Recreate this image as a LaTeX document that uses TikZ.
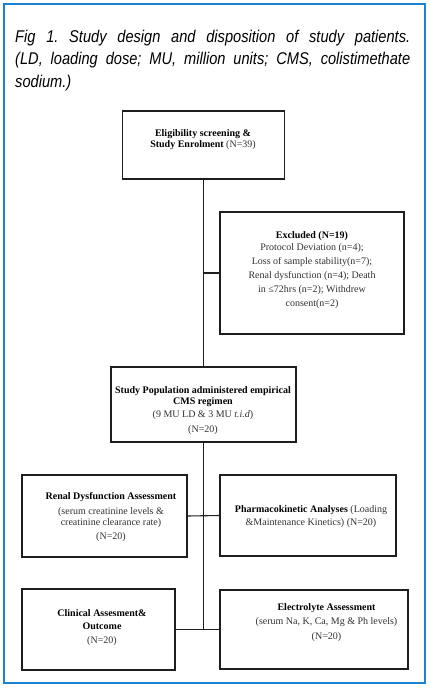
\documentclass[tikz,border=0pt]{standalone}
\usepackage{fontspec}
\setmainfont{Liberation Serif}
\newfontfamily\capfont[FakeStretch=0.86]{Liberation Sans}
\definecolor{framblue}{RGB}{30,130,210}
\definecolor{boxline}{RGB}{30,30,30}
\definecolor{txtgray}{RGB}{50,50,50}
\tikzset{
  box/.style={draw=boxline, line width=1.1pt, inner sep=0pt, outer sep=0pt, fill=white},
  boxtxt/.style={align=center, inner sep=0pt, text=txtgray},
  conn/.style={draw=boxline, line width=1.1pt}
}
\begin{document}
\begin{tikzpicture}[x=1pt,y=-1pt]
\useasboundingbox (0,0) rectangle (431,691);
\fill[white] (0,0) rectangle (431,691);
\draw[framblue, line width=1.6pt] (4,4) rectangle (425,683);
% caption
\node[anchor=north west, inner sep=0pt, text width=395pt, align=justify, text=black,
      font=\capfont\itshape\fontsize{17}{22.5}\selectfont] (cap) at (15,29.5)
  {\frenchspacing\hyphenpenalty=10000
   Fig 1. Study design and disposition of study patients.\linebreak
   (LD, loading dose; MU, million units; CMS, colistimethate\linebreak
   sodium.)};
% boxes
\node[box, minimum width=162pt, minimum height=68pt] (top) at (203.5,145) {};
\node[box, minimum width=184pt, minimum height=122pt] (excl) at (312,273) {};
\node[box, minimum width=185pt, minimum height=75pt] (pop) at (203.5,404.5) {};
\node[box, minimum width=165pt, minimum height=82pt] (renal) at (104.5,516) {};
\node[box, minimum width=176pt, minimum height=81pt] (pharma) at (308,515.5) {};
\node[box, minimum width=153pt, minimum height=81pt] (clin) at (98.5,629.5) {};
\node[box, minimum width=188pt, minimum height=79pt] (elec) at (314,629.5) {};
% texts
\node[boxtxt, font=\fontsize{10}{11.5}\selectfont] (toptxt) at (203,139.5)
  {\textbf{\color{black}Eligibility screening \&}\\\textbf{\color{black}Study Enrolment} (N=39)};
\node[boxtxt, font=\fontsize{10}{14}\selectfont] (excltxt) at (312,270)
  {\textbf{\color{black}Excluded (N=19)}\\[-2pt]Protocol Deviation (n=4);\\Loss of sample stability(n=7);\\Renal dysfunction (n=4); Death\\in ≤72hrs (n=2); Withdrew\\consent(n=2)};
\node[boxtxt, font=\fontsize{10}{11}\selectfont] (poptxt) at (203,411)
  {\textbf{\color{black}Study Population administered empirical}\\\textbf{\color{black}CMS regimen}\\[2pt](9 MU LD \& 3 MU \textit{t.i.d})\\[4pt](N=20)};
\node[boxtxt, font=\fontsize{10}{11}\selectfont] (renaltxt) at (111,517)
  {\textbf{\color{black}Renal Dysfunction Assessment}\\[4pt](serum creatinine levels \&\\creatinine clearance rate)\\[3pt](N=20)};
\node[boxtxt, font=\fontsize{10}{13}\selectfont] (pharmatxt) at (311,516.5)
  {\textbf{\color{black}Pharmacokinetic Analyses} (Loading\\\&Maintenance Kinetics) (N=20)};
\node[boxtxt, font=\fontsize{10}{13.5}\selectfont] (clintxt) at (102,627.5)
  {\textbf{\color{black}Clinical Assesment\&}\\\textbf{\color{black}Outcome}\\(N=20)};
\node[boxtxt, font=\fontsize{10}{14.5}\selectfont] (electxt) at (326.5,622.5)
  {\textbf{\color{black}Electrolyte Assessment}\\(serum Na, K, Ca, Mg \& Ph levels)\\(N=20)};
% connectors
\coordinate (jx) at (top.south |- excl.west);
\coordinate (jend) at (pop.south |- clin.east);
\draw[conn] (top.south) -- (pop.north);
\draw[conn] (jx) -- (excl.west);
\draw[conn] (pop.south) -- (jend);
\draw[conn] (renal.east) -- (pharma.west);
\draw[conn] (clin.east) -- (elec.west);
\end{tikzpicture}
\end{document}
